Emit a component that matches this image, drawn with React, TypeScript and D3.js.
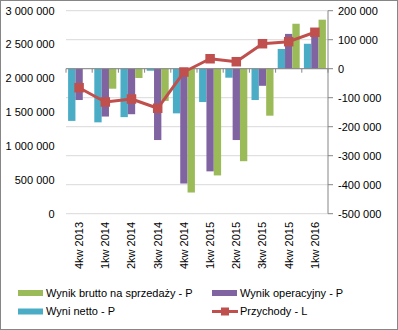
import React from "react";
import * as d3 from "d3";

const categories = ["4kw 2013", "1kw 2014", "2kw 2014", "3kw 2014", "4kw 2014", "1kw 2015", "2kw 2015", "3kw 2015", "4kw 2015", "1kw 2016"];
const netto = [-180000, -185000, -167000, -7000, -154000, -115000, -31000, -108000, 68000, 86000];
const operacyjny = [-108000, -165000, -157000, -246000, -396000, -354000, -246000, -59000, 120000, 125000];
const brutto = [0, -69000, -32000, -111000, -427000, -368000, -319000, -162000, 155000, 169000];
const przychody = [1862000, 1651000, 1695000, 1558000, 2094000, 2290000, 2246000, 2512000, 2542000, 2681000];
const leftTicks = [0, 500000, 1000000, 1500000, 2000000, 2500000, 3000000];
const rightTicks = [-500000, -400000, -300000, -200000, -100000, 0, 100000, 200000];
const barSeries = ["netto", "operacyjny", "brutto"];
const legendLabels = ["Wynik brutto na sprzedaży - P", "Wynik operacyjny - P", "Wyni netto - P", "Przychody - L"];

const COLORS: Record<string, string> = {
  netto: "#4BACC6",
  operacyjny: "#8064A2",
  brutto: "#9BBB59",
  line: "#C0504D",
};

const fmt = (v: number) => {
  const s = d3.format(",")(Math.abs(v)).replace(/,/g, " ");
  return (v < 0 ? "-" : "") + s;
};

export default function App() {
  const W = 398, H = 330;
  const plotL = 66, plotR = 328, plotT = 10.7, plotB = 213.7;
  const font = "'Liberation Sans', Arial, sans-serif";

  const x0 = d3.scaleBand<string>().domain(categories).range([plotL, plotR]).paddingInner(0).paddingOuter(0);
  const bw = x0.bandwidth();
  const x1 = d3.scaleBand<string>().domain(barSeries).range([bw * 0.08, bw * 0.92]).padding(0);
  const yL = d3.scaleLinear().domain([0, 3000000]).range([plotB, plotT]);
  const yR = d3.scaleLinear().domain([-500000, 200000]).range([plotB, plotT]);

  const data: Record<string, number[]> = { netto, operacyjny, brutto };
  const lineGen = d3.line<number>().x((_, i) => (x0(categories[i]) as number) + bw / 2).y((d) => yL(d));

  return (
    <svg width={W} height={H} style={{ position: "absolute", left: 0, top: 0 }}>
      <rect x={0.5} y={0.5} width={W - 1} height={H - 1} fill="#fff" stroke="#868686" />
      {/* gridlines */}
      {rightTicks.map((t) => (
        <line key={"g" + t} x1={plotL} x2={plotR} y1={yR(t)} y2={yR(t)} stroke="#D9D9D9" strokeWidth={1} />
      ))}
      {/* bars */}
      {categories.map((c, i) => (
        <g key={c}>
          {barSeries.map((s) => {
            const v = data[s][i];
            const y = Math.min(yR(v), yR(0));
            const h = Math.abs(yR(v) - yR(0));
            return <rect key={s} x={(x0(c) as number) + (x1(s) as number)} y={y} width={x1.bandwidth()} height={h} fill={COLORS[s]} />;
          })}
        </g>
      ))}
      {/* category axis at zero */}
      <line x1={plotL} x2={plotR} y1={yR(0)} y2={yR(0)} stroke="#868686" strokeWidth={1} />
      {categories.concat(["_end"]).map((c, i) => {
        const xx = plotL + i * bw;
        return <line key={"t" + i} x1={xx} x2={xx} y1={yR(0)} y2={yR(0) + 4} stroke="#868686" />;
      })}
      {/* right axis */}
      <line x1={plotR} x2={plotR} y1={plotT} y2={plotB} stroke="#868686" />
      {rightTicks.map((t) => (
        <g key={"r" + t}>
          <line x1={plotR} x2={plotR + 5} y1={yR(t)} y2={yR(t)} stroke="#868686" />
          <text x={338} y={yR(t)} dy="0.35em" fontFamily={font} fontSize={11} fill="#000">{fmt(t)}</text>
        </g>
      ))}
      {leftTicks.map((t) => (
        <text key={"l" + t} x={54.5} y={yL(t)} dy="0.35em" textAnchor="end" fontFamily={font} fontSize={11} fill="#000">{fmt(t)}</text>
      ))}
      {/* line series */}
      <path d={lineGen(przychody) || ""} fill="none" stroke={COLORS.line} strokeWidth={3} strokeLinejoin="round" />
      {przychody.map((v, i) => (
        <rect key={"m" + i} x={(x0(categories[i]) as number) + bw / 2 - 4.75} y={yL(v) - 4.75} width={9.5} height={9.5} fill={COLORS.line} />
      ))}
      {/* category labels */}
      {categories.map((c) => {
        const cx = (x0(c) as number) + bw / 2;
        return (
          <text key={"c" + c} transform={`translate(${cx},222) rotate(-90)`} textAnchor="end" dy="0.35em" fontFamily={font} fontSize={11} fill="#000">{c}</text>
        );
      })}
      {/* legend */}
      <rect x={18} y={290} width={25} height={6} fill={COLORS.brutto} />
      <text x={46} y={293} dy="0.35em" fontFamily={font} fontSize={11} fill="#000">{legendLabels[0]}</text>
      <rect x={212} y={290} width={25} height={6} fill={COLORS.operacyjny} />
      <text x={240} y={293} dy="0.35em" fontFamily={font} fontSize={11} fill="#000">{legendLabels[1]}</text>
      <rect x={18} y={308.5} width={25} height={6} fill={COLORS.netto} />
      <text x={46} y={311.5} dy="0.35em" fontFamily={font} fontSize={11} fill="#000">{legendLabels[2]}</text>
      <line x1={212} x2={238} y1={311.5} y2={311.5} stroke={COLORS.line} strokeWidth={3} />
      <rect x={221} y={307.5} width={8} height={8} fill={COLORS.line} />
      <text x={240} y={311.5} dy="0.35em" fontFamily={font} fontSize={11} fill="#000">{legendLabels[3]}</text>
    </svg>
  );
}
